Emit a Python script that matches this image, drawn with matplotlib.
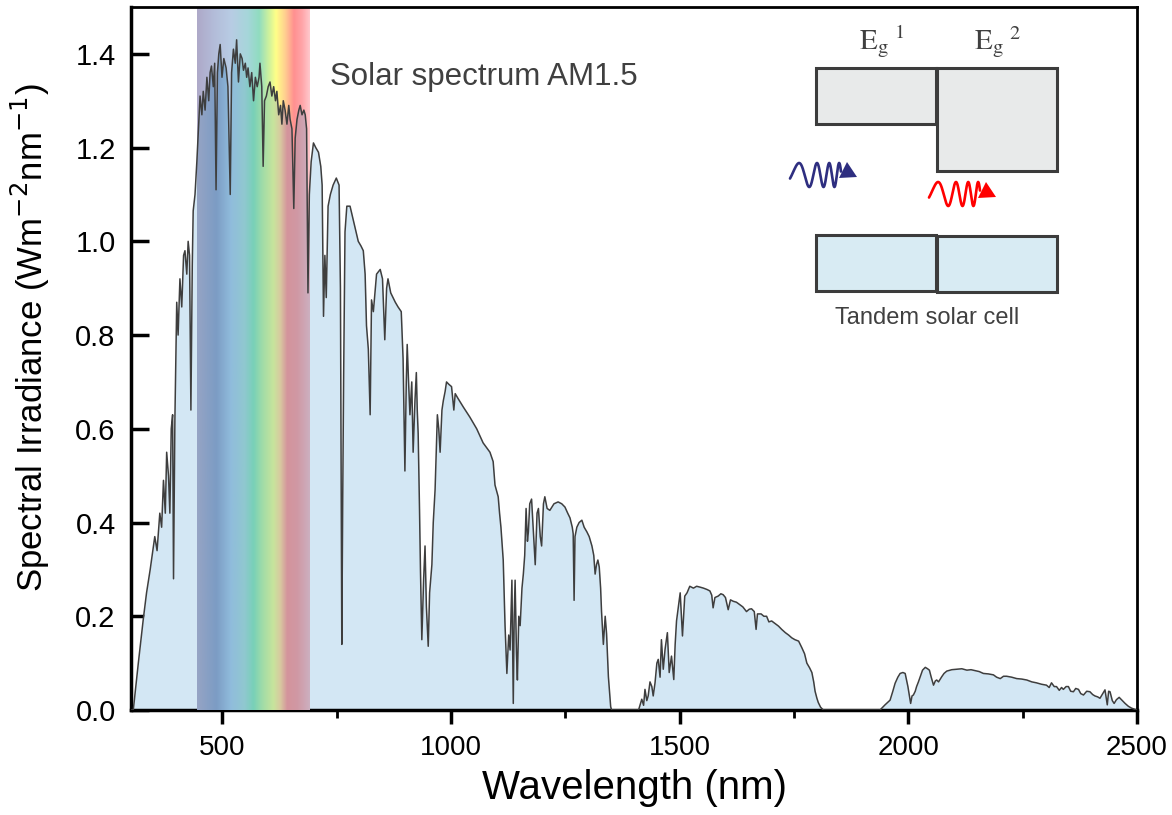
import numpy as np
import matplotlib
matplotlib.use('Agg')
import matplotlib.pyplot as plt
from matplotlib.colors import LinearSegmentedColormap
from matplotlib.patches import Rectangle, Polygon

plt.rcParams['font.family'] = ['Liberation Sans', 'DejaVu Sans']

# Espectro solar AM1.5 (nm, W m-2 nm-1)
wavelength = [
    300, 305, 316, 327, 334, 342, 352, 357, 363, 367, 371, 375, 378, 382, 385, 388,
    391, 393, 396, 400, 403, 407, 411, 415, 418, 422, 425, 428, 431, 434, 436, 440,
    444, 448, 451, 455, 458, 462, 466, 470, 473, 476, 480, 483, 486, 489, 492, 495,
    499, 503, 508, 512, 517, 520, 524, 528, 531, 535, 539, 543, 546, 550, 553, 556,
    560, 564, 568, 572, 576, 580, 582, 586, 589, 592, 596, 600, 604, 608, 612, 616,
    619, 623, 627, 630, 633, 637, 641, 645, 648, 652, 656, 659, 663, 667, 670, 674,
    678, 681, 684, 687, 690, 694, 699, 704, 710, 715, 718, 721, 724, 727, 731, 736,
    742, 749, 755, 758, 761, 763, 765, 768, 772, 779, 785, 790, 797, 803, 808, 812,
    815, 819, 823, 826, 830, 837, 845, 850, 855, 859, 862, 868, 873, 878, 884, 891,
    895, 899, 902, 904, 907, 910, 914, 917, 921, 924, 926, 928, 931, 933, 936, 940,
    943, 946, 950, 953, 958, 961, 965, 970, 973, 976, 980, 983, 987, 990, 995, 1001,
    1006, 1009, 1015, 1027, 1041, 1056, 1070, 1085, 1092, 1096, 1103, 1106, 1109, 1114, 1118, 1122,
    1126, 1129, 1133, 1136, 1138, 1140, 1143, 1145, 1148, 1151, 1155, 1158, 1161, 1164, 1167, 1169,
    1172, 1176, 1180, 1184, 1188, 1191, 1195, 1198, 1202, 1205, 1210, 1216, 1225, 1234, 1242, 1249,
    1255, 1260, 1265, 1267, 1269, 1271, 1275, 1280, 1286, 1291, 1297, 1302, 1308, 1312, 1315, 1318,
    1321, 1324, 1327, 1329, 1333, 1337, 1340, 1344, 1349, 1351, 1410, 1417, 1421, 1424, 1428, 1431,
    1435, 1439, 1442, 1446, 1450, 1453, 1457, 1460, 1464, 1468, 1473, 1477, 1482, 1487, 1490, 1493,
    1497, 1501, 1506, 1511, 1516, 1522, 1530, 1537, 1545, 1552, 1560, 1566, 1570, 1573, 1577, 1584,
    1590, 1595, 1600, 1606, 1611, 1617, 1624, 1631, 1638, 1646, 1652, 1657, 1663, 1667, 1670, 1678,
    1684, 1690, 1695, 1701, 1708, 1716, 1723, 1731, 1738, 1745, 1752, 1760, 1767, 1773, 1778, 1784,
    1789, 1793, 1796, 1800, 1803, 1808, 1814, 1938, 1949, 1960, 1966, 1971, 1977, 1982, 1988, 1993,
    1999, 2005, 2008, 2011, 2015, 2018, 2022, 2026, 2031, 2037, 2042, 2046, 2050, 2055, 2059, 2062,
    2066, 2073, 2078, 2084, 2095, 2106, 2117, 2128, 2137, 2146, 2155, 2164, 2175, 2186, 2193, 2201,
    2208, 2215, 2226, 2237, 2248, 2259, 2270, 2280, 2291, 2302, 2308, 2313, 2319, 2324, 2330, 2335,
    2339, 2345, 2350, 2355, 2361, 2366, 2372, 2377, 2383, 2390, 2397, 2403, 2408, 2414, 2419, 2425,
    2430, 2435, 2438, 2441, 2446, 2450, 2455, 2461, 2468, 2474, 2481, 2488, 2499,
]
irradiance = [
    0.0, 0.0, 0.10, 0.195, 0.25, 0.30, 0.37, 0.34, 0.42, 0.39, 0.49, 0.42, 0.55, 0.50, 0.42, 0.60,
    0.63, 0.28, 0.62, 0.87, 0.80, 0.92, 0.86, 0.97, 0.98, 0.93, 1.00, 0.97, 0.64, 0.95, 1.065, 1.10,
    1.17, 1.25, 1.31, 1.27, 1.32, 1.28, 1.35, 1.30, 1.36, 1.374, 1.33, 1.38, 1.11, 1.36, 1.40, 1.42,
    1.35, 1.39, 1.37, 1.33, 1.10, 1.36, 1.41, 1.38, 1.43, 1.34, 1.40, 1.39, 1.365, 1.38, 1.35, 1.37,
    1.33, 1.36, 1.30, 1.35, 1.33, 1.35, 1.38, 1.33, 1.16, 1.30, 1.31, 1.33, 1.34, 1.31, 1.33, 1.30,
    1.32, 1.27, 1.29, 1.25, 1.30, 1.28, 1.25, 1.29, 1.26, 1.24, 1.07, 1.22, 1.26, 1.28, 1.29, 1.27,
    1.28, 1.27, 1.24, 0.89, 1.10, 1.17, 1.21, 1.20, 1.19, 1.16, 1.12, 0.84, 0.97, 0.88, 1.075, 1.10,
    1.12, 1.135, 1.12, 0.90, 0.14, 0.45, 0.71, 1.02, 1.075, 1.075, 1.05, 1.03, 1.00, 0.99, 0.98, 0.93,
    0.82, 0.77, 0.63, 0.875, 0.85, 0.93, 0.94, 0.92, 0.79, 0.90, 0.92, 0.89, 0.88, 0.87, 0.86, 0.85,
    0.75, 0.51, 0.70, 0.78, 0.70, 0.63, 0.70, 0.55, 0.66, 0.72, 0.64, 0.59, 0.425, 0.30, 0.15, 0.28,
    0.35, 0.22, 0.136, 0.25, 0.31, 0.40, 0.47, 0.63, 0.60, 0.55, 0.64, 0.66, 0.68, 0.70, 0.695, 0.69,
    0.64, 0.675, 0.665, 0.646, 0.625, 0.60, 0.57, 0.55, 0.53, 0.48, 0.455, 0.42, 0.39, 0.32, 0.18, 0.078,
    0.16, 0.128, 0.277, 0.014, 0.20, 0.277, 0.12, 0.064, 0.20, 0.18, 0.26, 0.29, 0.33, 0.43, 0.36, 0.38,
    0.44, 0.45, 0.38, 0.31, 0.42, 0.43, 0.37, 0.35, 0.44, 0.455, 0.43, 0.426, 0.44, 0.444, 0.44, 0.433,
    0.42, 0.41, 0.39, 0.376, 0.234, 0.37, 0.39, 0.40, 0.405, 0.39, 0.38, 0.37, 0.35, 0.33, 0.29, 0.31,
    0.32, 0.305, 0.26, 0.21, 0.14, 0.20, 0.163, 0.071, 0.007, 0.0, 0.0, 0.023, 0.01, 0.044, 0.02, 0.03,
    0.06, 0.05, 0.03, 0.058, 0.10, 0.108, 0.07, 0.15, 0.087, 0.13, 0.165, 0.08, 0.115, 0.065, 0.14, 0.19,
    0.22, 0.25, 0.158, 0.243, 0.25, 0.264, 0.26, 0.264, 0.262, 0.26, 0.257, 0.254, 0.245, 0.218, 0.24, 0.243,
    0.248, 0.246, 0.24, 0.214, 0.235, 0.232, 0.23, 0.225, 0.22, 0.21, 0.215, 0.216, 0.21, 0.172, 0.205, 0.205,
    0.20, 0.20, 0.188, 0.19, 0.185, 0.179, 0.172, 0.165, 0.16, 0.154, 0.15, 0.147, 0.133, 0.12, 0.10, 0.09,
    0.08, 0.06, 0.04, 0.025, 0.016, 0.006, 0.0, 0.0, 0.011, 0.021, 0.04, 0.057, 0.07, 0.078, 0.08, 0.078,
    0.05, 0.014, 0.03, 0.032, 0.04, 0.05, 0.06, 0.071, 0.085, 0.091, 0.088, 0.085, 0.07, 0.053, 0.062, 0.064,
    0.06, 0.071, 0.078, 0.083, 0.086, 0.087, 0.088, 0.085, 0.086, 0.084, 0.082, 0.078, 0.077, 0.075, 0.07, 0.067,
    0.072, 0.072, 0.07, 0.067, 0.066, 0.064, 0.06, 0.058, 0.055, 0.053, 0.048, 0.058, 0.05, 0.05, 0.042, 0.048,
    0.044, 0.05, 0.05, 0.04, 0.039, 0.046, 0.044, 0.035, 0.032, 0.04, 0.039, 0.033, 0.03, 0.028, 0.025, 0.035,
    0.043, 0.011, 0.04, 0.039, 0.02, 0.014, 0.022, 0.027, 0.02, 0.014, 0.008, 0.004, 0.0,
]

# banda visible
visible_band = (445, 690)
x_ticks = [500, 1000, 1500, 2000, 2500]
x_minor = [750, 1250, 1750, 2250]
y_ticks = [0.0, 0.2, 0.4, 0.6, 0.8, 1.0, 1.2, 1.4]

# colores del arco iris (arriba sobre blanco, abajo sobre el relleno azul)
rainbow_top = [(0.0, '#aea9c8'), (0.15, '#b3bcd9'), (0.3, '#b8cce4'), (0.45, '#a6d6da'),
               (0.55, '#90dcc0'), (0.64, '#d0f29c'), (0.7, '#ffff88'), (0.78, '#ffd090'),
               (0.86, '#ff9090'), (0.93, '#ffa4a8'), (1.0, '#ffc8cc')]
rainbow_low = [(0.0, '#96a4c4'), (0.17, '#7c9cc4'), (0.3, '#90bcdc'), (0.42, '#90c8d0'),
               (0.5, '#78d0b8'), (0.58, '#a0dca8'), (0.68, '#c8e49c'), (0.74, '#d8c8a0'),
               (0.8, '#d4949c'), (0.89, '#d098a4'), (1.0, '#ccb0c0')]


def wave(ax, x0, length, yc, amp, color, tip):
    # onda con frecuencia creciente y punta de flecha
    t = np.linspace(0, 1, 300)
    phase = 8.0 * t + 14.0 * t ** 2 - 0.3
    xs = x0 + length * t
    ys = yc - amp * np.sin(phase)
    ax.plot(xs, ys, color=color, lw=1.9, solid_capstyle='round')
    ax.add_patch(Polygon(tip, closed=True, color=color, lw=0))


fig = plt.figure(figsize=(11.72, 8.15), dpi=100)
ax = fig.add_axes([131 / 1172, 1 - 710 / 815, 1006 / 1172, 703 / 815])

cm_top = LinearSegmentedColormap.from_list('top', rainbow_top)
cm_low = LinearSegmentedColormap.from_list('low', rainbow_low)
grad = np.linspace(0, 1, 256)[None, :]

ax.imshow(grad, cmap=cm_top, extent=[visible_band[0], visible_band[1], 0, 1.5],
          aspect='auto', zorder=1, interpolation='bilinear')
poly = ax.fill_between(wavelength, irradiance, 0, color='#d3e7f4', lw=0, zorder=2)
im_low = ax.imshow(grad, cmap=cm_low, extent=[visible_band[0], visible_band[1], 0, 1.5],
                   aspect='auto', zorder=3, interpolation='bilinear')
im_low.set_clip_path(poly.get_paths()[0], transform=ax.transData)
ax.plot(wavelength, irradiance, color='#3e3e3e', lw=1.1, zorder=4)

ax.set_xlim(300, 2500)
ax.set_ylim(0, 1.5)
ax.set_xticks(x_ticks)
ax.set_xticks(x_minor, minor=True)
ax.set_yticks(y_ticks)
ax.set_yticklabels(['%.1f' % v for v in y_ticks])

ax.tick_params(axis='x', which='major', direction='out', length=10, width=2.5,
               labelsize=20, pad=8, top=False)
ax.tick_params(axis='x', which='minor', direction='out', length=6, width=2, top=False)
ax.tick_params(axis='y', direction='in', length=13, width=2.5, labelsize=21,
               pad=11, right=False)
for side in ['left', 'bottom']:
    ax.spines[side].set_linewidth(2.5)
for side in ['top', 'right']:
    ax.spines[side].set_linewidth(2)

ax.set_xlabel('Wavelength (nm)', fontsize=29, labelpad=6)
ax.set_ylabel(r'Spectral Irradiance (Wm$^{-2}$nm$^{-1}$)', fontsize=25,
              math_fontfamily='dejavusans')
ax.yaxis.set_label_coords(-0.079, 0.53)

ax.text(735, 1.35, 'Solar spectrum AM1.5', fontsize=22.5, color='#404040',
        va='center', ha='left', zorder=5)

# esquema de la celda tandem (coordenadas en pixeles)
ov = fig.add_axes([0, 0, 1, 1])
ov.set_xlim(0, 1172)
ov.set_ylim(815, 0)
ov.axis('off')

ov.add_patch(Rectangle((816, 68), 120, 56, facecolor='#e8eaea', edgecolor='#3c3c3c', lw=2.2))
ov.add_patch(Rectangle((937, 68), 120, 103, facecolor='#e8eaea', edgecolor='#3c3c3c', lw=2.2))
ov.add_patch(Rectangle((816, 235), 120, 56, facecolor='#d8ebf3', edgecolor='#3c3c3c', lw=2.2))
ov.add_patch(Rectangle((937, 236), 120, 56, facecolor='#d8ebf3', edgecolor='#3c3c3c', lw=2.2))

ov.text(882, 50, r'$\mathrm{E_g}^{\,\,1}$', fontsize=21, color='#404040', ha='center',
        va='baseline', math_fontfamily='stix')
ov.text(997, 50, r'$\mathrm{E_g}^{\,\,2}$', fontsize=21, color='#404040', ha='center',
        va='baseline', math_fontfamily='stix')
ov.text(927, 318, 'Tandem solar cell', fontsize=17, color='#404040', ha='center', va='center')

wave(ov, 790, 51, 175, 12, '#2e2e80', [(839, 178), (847, 162), (857, 177)])
wave(ov, 929, 51, 194, 12, '#ff0000', [(978, 198), (986, 182), (996, 197)])

fig.savefig('out.png', dpi=100)
